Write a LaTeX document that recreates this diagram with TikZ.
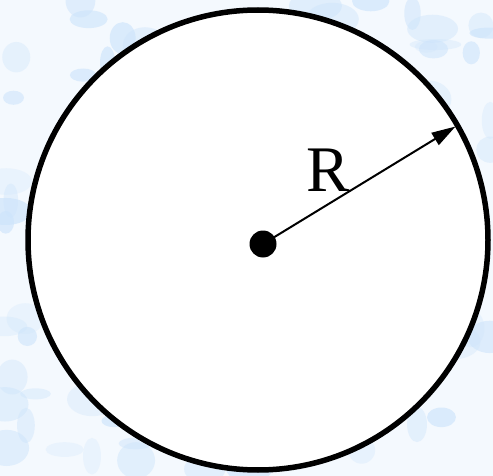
\documentclass[tikz,border=0pt]{standalone}
\usepackage{fontspec}
\setmainfont{Liberation Serif}
\usetikzlibrary{arrows.meta}
\definecolor{bgbase}{RGB}{244,249,254}
\definecolor{blobc}{RGB}{205,228,251}
\tikzset{
  rim/.style={draw=black, line width=5.5pt, fill=white},
  centerdot/.style={circle, fill=black, inner sep=0pt, minimum size=27pt},
  radiusarrow/.style={-{Triangle[length=24pt,width=14pt]}, line width=2pt},
  lbl/.style={font=\fontsize{65}{65}\selectfont, anchor=base, inner sep=0pt}
}
\begin{document}
\begin{tikzpicture}[x=1pt,y=-1pt]
\useasboundingbox (0,0) rectangle (493,476);
\fill[bgbase] (0,0) rectangle (493,476);
\pgfmathsetseed{23}
\foreach \i in {1,...,130}{
  \pgfmathsetmacro\bx{rnd*493}
  \pgfmathsetmacro\by{rnd*476}
  \pgfmathsetmacro\rx{7+rnd*20}
  \pgfmathsetmacro\ry{5+rnd*14}
  \pgfmathsetmacro\op{0.25+rnd*0.45}
  \fill[blobc, opacity=\op] (\bx,\by) ellipse (\rx pt and \ry pt);
}
\coordinate (ctr) at (258,240);
\draw[rim] (ctr) circle (230pt);
\node[centerdot] (dot) at (263,244) {};
\coordinate (tip) at (455.5,126.5);
\draw[radiusarrow] (dot.center) -- (tip);
\node[lbl] (R) at (328.5,191.7) {R};
\end{tikzpicture}
\end{document}
